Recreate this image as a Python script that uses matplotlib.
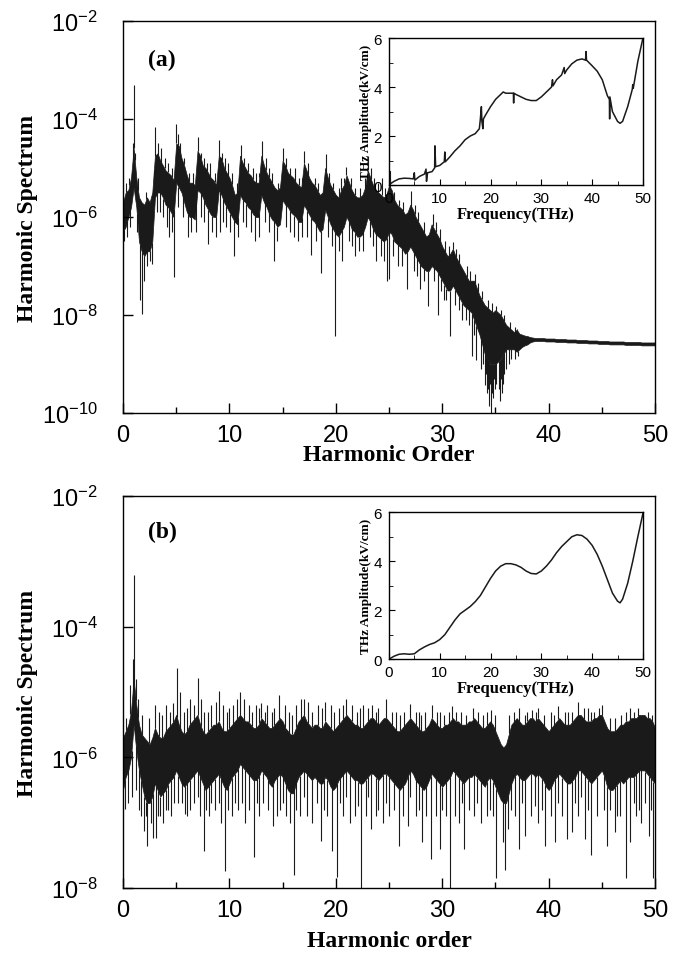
import numpy as np
import matplotlib
matplotlib.use("Agg")
import matplotlib.pyplot as plt
from matplotlib.ticker import MultipleLocator, NullLocator

plt.rcParams["font.family"] = ["Liberation Sans", "DejaVu Sans"]
plt.rcParams["mathtext.fontset"] = "custom"
plt.rcParams["mathtext.rm"] = "Liberation Sans"
plt.rcParams["mathtext.it"] = "Liberation Sans:italic"
plt.rcParams["mathtext.bf"] = "Liberation Sans:bold"

SERIF = "Liberation Serif"
INK = "#1a1a1a"

# ----------------------------
# Data: log10 of the harmonic spectrum
# band edges every 0.25 harmonic order, spikes as (order, log10 value)
# ----------------------------

h_grid = np.arange(0, 50.01, 0.25)

top_a = [
    -5.7, -5.5, -5.45, -5.2, -4.6, -5.2, -5.6, -5.7, -5.75, -5.6, -5.7, -5.5,
    -4.75, -4.7, -4.85, -4.95, -5.05, -5.1, -5.15, -5.25,
    -4.5, -4.55, -4.8, -4.95, -5.15, -5.3, -5.3, -5.35,
    -4.65, -4.75, -4.95, -5.0, -5.1, -5.2, -5.25, -5.35,
    -4.75, -4.8, -5.0, -5.1, -5.2, -5.35, -5.55, -5.5,
    -4.75, -4.9, -5.0, -5.1, -5.15, -5.25, -5.3, -5.3,
    -4.75, -4.95, -5.1, -5.2, -5.3, -5.4, -5.45, -5.4,
    -4.85, -4.95, -5.1, -5.15, -5.2, -5.3, -5.35, -5.4,
    -4.9, -5.05, -5.2, -5.3, -5.35, -5.45, -5.55, -5.5,
    -5.0, -5.2, -5.35, -5.45, -5.55, -5.6, -5.45, -5.35,
    -5.15, -5.3, -5.45, -5.55, -5.6, -5.6, -5.55, -5.4,
    -5.05, -5.2, -5.35, -5.45, -5.5, -5.55, -5.6, -5.55,
    -5.35, -5.45, -5.65, -5.75, -5.8, -5.85, -5.95, -5.9,
    -5.75, -5.85, -6.0, -6.1, -6.2, -6.3, -6.4, -6.35,
    -6.15, -6.25, -6.35, -6.45, -6.6, -6.7, -6.8, -6.75,
    -6.65, -6.8, -6.9, -7.0, -7.1, -7.2, -7.3, -7.3,
    -7.3, -7.45, -7.6, -7.7, -7.8, -7.85, -7.9, -7.95,
    -7.9, -7.95, -8.0, -8.1, -8.2, -8.25, -8.3, -8.35,
    -8.3, -8.38, -8.4, -8.42, -8.43, -8.45, -8.46, -8.47,
    -8.47, -8.47, -8.47, -8.48, -8.48, -8.48, -8.48, -8.49,
    -8.49, -8.49, -8.49, -8.5, -8.5, -8.5, -8.5, -8.51,
    -8.51, -8.51, -8.51, -8.52, -8.52, -8.52, -8.52, -8.53,
    -8.53, -8.53, -8.53, -8.54, -8.54, -8.54, -8.54, -8.54,
    -8.54, -8.55, -8.55, -8.55, -8.55, -8.55, -8.55, -8.56,
    -8.56, -8.56, -8.56, -8.56, -8.56,
]
bot_a = [
    -6.3, -6.2, -6.0, -5.8, -5.4, -5.8, -6.5, -6.7, -6.8, -6.7, -6.7, -6.5,
    -5.6, -5.5, -5.5, -5.6, -5.75, -5.8, -5.9, -6.0,
    -5.3, -5.4, -5.5, -5.7, -5.9, -6.0, -6.0, -6.05,
    -5.45, -5.5, -5.6, -5.75, -5.85, -5.95, -6.0, -6.0,
    -5.45, -5.55, -5.7, -5.8, -5.9, -6.0, -6.1, -6.15,
    -5.55, -5.65, -5.7, -5.8, -5.85, -5.95, -6.0, -6.0,
    -5.55, -5.7, -5.8, -5.95, -6.05, -6.1, -6.2, -6.15,
    -5.65, -5.75, -5.8, -5.9, -5.95, -6.0, -6.1, -6.1,
    -5.75, -5.85, -5.95, -6.05, -6.1, -6.2, -6.3, -6.25,
    -5.85, -6.0, -6.15, -6.25, -6.35, -6.4, -6.3, -6.2,
    -6.0, -6.1, -6.25, -6.3, -6.4, -6.4, -6.35, -6.2,
    -6.0, -6.1, -6.25, -6.35, -6.4, -6.45, -6.5, -6.45,
    -6.3, -6.35, -6.5, -6.55, -6.6, -6.65, -6.75, -6.7,
    -6.6, -6.7, -6.8, -6.9, -7.0, -7.05, -7.1, -7.1,
    -7.0, -7.05, -7.1, -7.2, -7.3, -7.4, -7.5, -7.5,
    -7.4, -7.5, -7.6, -7.7, -7.8, -7.85, -7.9, -7.95,
    -8.1, -8.25, -8.4, -8.6, -8.8, -8.9, -9.0, -9.0,
    -9.0, -8.95, -8.9, -8.8, -8.7, -8.7, -8.7, -8.7,
    -8.75, -8.7, -8.65, -8.62, -8.6, -8.56, -8.54, -8.53,
    -8.53, -8.53, -8.53, -8.54, -8.54, -8.54, -8.54, -8.55,
    -8.55, -8.55, -8.55, -8.56, -8.56, -8.56, -8.56, -8.57,
    -8.57, -8.57, -8.57, -8.58, -8.58, -8.58, -8.58, -8.59,
    -8.59, -8.59, -8.59, -8.6, -8.6, -8.6, -8.6, -8.6,
    -8.6, -8.61, -8.61, -8.61, -8.61, -8.61, -8.61, -8.62,
    -8.62, -8.62, -8.62, -8.62, -8.62,
]
up_a = [
    (1.0, -3.3), (0.9, -4.5), (1.1, -4.7), (3.0, -4.16), (3.3, -4.5), (3.6, -4.6),
    (5.0, -4.11), (5.2, -4.3), (5.4, -4.5), (7.0, -4.36), (7.3, -4.7), (8.2, -4.9),
    (9.0, -4.43), (9.3, -4.7), (11.1, -4.54), (11.4, -4.8), (12.2, -5.0),
    (13.1, -4.45), (13.4, -4.8), (15.0, -4.59), (16.2, -5.0), (17.0, -4.65),
    (19.1, -4.72), (20.5, -5.2), (21.0, -4.97), (23.0, -4.75), (24.3, -5.2),
    (25.1, -5.06), (27.1, -5.46), (29.1, -5.94), (31.0, -6.52), (33.1, -7.16),
    (35.06, -7.82), (37.0, -8.28),
    (0.3, -5.3), (0.6, -5.2), (1.4, -5.2), (2.2, -5.5), (2.9, -5.3), (3.9, -4.8),
    (4.2, -4.9), (4.6, -5.0), (5.7, -4.8), (6.2, -5.1), (6.6, -5.1), (7.6, -4.8),
    (7.9, -4.9), (8.6, -5.1), (9.6, -4.8), (9.9, -4.9), (10.2, -5.1), (10.7, -5.3),
    (11.7, -4.9), (12.5, -5.1), (12.8, -5.1), (13.7, -5.0), (14.0, -5.1),
    (14.6, -5.3), (15.3, -4.8), (15.7, -5.0), (16.5, -5.2), (16.8, -5.2),
    (17.4, -4.9), (18.0, -5.2), (18.3, -5.3), (19.4, -5.1), (19.7, -5.3),
    (20.3, -5.4), (20.8, -5.2), (21.4, -5.2), (21.8, -5.4), (22.3, -5.4),
    (22.7, -5.2), (23.3, -5.0), (23.6, -5.2), (24.0, -5.3), (24.6, -5.4),
    (25.5, -5.5), (25.9, -5.65), (26.3, -5.7), (27.4, -5.75), (27.7, -5.9),
    (28.3, -6.1), (29.4, -6.1), (29.8, -6.25), (30.3, -6.5), (30.6, -6.6),
    (31.3, -6.65), (31.6, -6.75), (32.3, -7.0), (32.6, -7.1), (33.4, -7.35),
    (33.7, -7.5), (34.3, -7.7), (34.7, -7.75), (35.5, -7.9), (35.8, -8.0),
    (36.4, -8.15), (36.8, -8.25),
]
down_a = [
    (0.1, -6.5), (1.6, -7.7), (1.8, -7.97), (2.0, -7.3), (2.3, -7.0), (2.5, -6.9),
    (2.7, -6.95), (4.3, -6.4), (4.8, -7.23), (6.1, -6.4), (6.9, -6.3), (8.0, -6.55),
    (9.1, -6.3), (10.4, -6.8), (12.4, -6.5), (14.2, -6.9), (16.4, -6.5),
    (17.7, -6.78), (18.6, -7.15), (19.9, -8.42), (20.6, -6.9), (21.8, -6.8),
    (23.75, -6.9), (24.8, -7.3), (25.0, -7.27), (26.7, -7.47), (27.9, -7.47),
    (28.7, -7.81), (29.6, -8.0), (30.2, -7.7), (30.7, -8.42), (31.9, -8.1),
    (32.8, -8.83), (33.2, -8.92), (33.6, -9.1), (34.0, -9.43), (34.2, -9.6),
    (34.4, -9.85), (34.6, -10.0), (34.8, -9.7), (35.0, -9.5), (35.4, -9.75),
    (35.6, -9.6), (35.8, -9.2), (36.3, -9.0), (37.1, -8.84),
    (0.4, -6.4), (0.7, -6.2), (1.3, -6.3), (3.2, -5.9), (3.5, -5.9), (3.8, -6.0),
    (4.1, -6.2), (4.6, -6.3), (5.2, -5.8), (5.6, -6.0), (6.4, -6.3), (7.3, -6.0),
    (7.6, -6.1), (8.4, -6.3), (8.7, -6.4), (9.4, -6.1), (9.7, -6.2), (10.1, -6.3),
    (10.8, -6.4), (11.3, -6.1), (11.6, -6.2), (12.0, -6.3), (12.8, -6.4),
    (13.3, -6.1), (13.7, -6.3), (14.5, -6.5), (15.3, -6.2), (15.7, -6.3),
    (16.1, -6.4), (16.8, -6.4), (17.3, -6.4), (18.1, -6.5), (19.3, -6.4),
    (19.6, -6.6), (20.3, -6.7), (21.2, -6.5), (21.5, -6.6), (22.2, -6.7),
    (22.6, -6.7), (23.2, -6.4), (23.5, -6.6), (24.2, -6.8), (24.5, -6.9),
    (25.4, -6.8), (25.8, -7.0), (26.2, -7.0), (27.3, -7.1), (27.6, -7.2),
    (28.3, -7.3), (29.2, -7.3), (29.9, -7.5), (30.4, -7.7), (31.2, -7.8),
    (31.6, -7.9), (32.2, -8.1), (32.5, -8.2), (33.0, -8.4), (33.8, -9.0),
    (34.1, -9.2), (34.3, -9.5), (34.5, -9.4), (34.7, -9.6), (34.9, -9.3),
    (35.1, -9.4), (35.3, -9.5), (35.5, -9.3), (35.7, -9.4), (36.0, -9.1),
    (36.5, -8.9), (36.8, -8.9),
]

top_b = [
    -5.7, -5.6, -5.5, -5.3, -4.8, -5.2, -5.5, -5.65, -5.7, -5.75, -5.8, -5.7,
    -5.55, -5.65, -5.7, -5.7, -5.6, -5.55, -5.5, -5.45,
    -5.35, -5.5, -5.6, -5.65, -5.6, -5.5, -5.45, -5.4,
    -5.35, -5.5, -5.6, -5.65, -5.6, -5.55, -5.5, -5.5,
    -5.45, -5.55, -5.6, -5.6, -5.55, -5.5, -5.45, -5.4,
    -5.35, -5.4, -5.45, -5.45, -5.5, -5.55, -5.55, -5.5,
    -5.4, -5.45, -5.5, -5.55, -5.55, -5.5, -5.45, -5.4,
    -5.45, -5.55, -5.6, -5.65, -5.65, -5.55, -5.45, -5.4,
    -5.35, -5.45, -5.5, -5.55, -5.5, -5.5, -5.55, -5.55,
    -5.45, -5.5, -5.55, -5.6, -5.55, -5.5, -5.45, -5.4,
    -5.35, -5.4, -5.45, -5.5, -5.5, -5.55, -5.55, -5.5,
    -5.45, -5.4, -5.4, -5.45, -5.5, -5.45, -5.4, -5.4,
    -5.45, -5.5, -5.55, -5.6, -5.6, -5.55, -5.5, -5.45,
    -5.4, -5.45, -5.5, -5.55, -5.6, -5.6, -5.55, -5.5,
    -5.4, -5.45, -5.5, -5.55, -5.55, -5.5, -5.5, -5.45,
    -5.4, -5.45, -5.45, -5.5, -5.5, -5.5, -5.45, -5.45,
    -5.4, -5.45, -5.5, -5.55, -5.55, -5.5, -5.45, -5.5,
    -5.6, -5.7, -5.8, -5.85, -5.8, -5.65, -5.5, -5.45,
    -5.4, -5.45, -5.5, -5.5, -5.45, -5.4, -5.4, -5.45,
    -5.4, -5.45, -5.5, -5.55, -5.6, -5.55, -5.5, -5.45,
    -5.4, -5.45, -5.5, -5.5, -5.5, -5.45, -5.4, -5.35,
    -5.35, -5.4, -5.45, -5.45, -5.45, -5.4, -5.4, -5.35,
    -5.35, -5.45, -5.55, -5.6, -5.6, -5.6, -5.55, -5.5,
    -5.5, -5.45, -5.45, -5.4, -5.4, -5.4, -5.35, -5.35,
    -5.35, -5.4, -5.4, -5.45, -5.55,
]
bot_b = [
    -6.5, -6.3, -6.2, -6.0, -5.5, -5.9, -6.2, -6.4, -6.6, -6.7, -6.7, -6.6,
    -6.4, -6.5, -6.6, -6.55, -6.5, -6.4, -6.35, -6.3,
    -6.2, -6.3, -6.4, -6.45, -6.4, -6.35, -6.3, -6.25,
    -6.2, -6.3, -6.4, -6.5, -6.45, -6.4, -6.35, -6.3,
    -6.25, -6.35, -6.45, -6.5, -6.4, -6.3, -6.25, -6.2,
    -6.1, -6.15, -6.2, -6.25, -6.3, -6.35, -6.35, -6.3,
    -6.2, -6.25, -6.3, -6.4, -6.45, -6.35, -6.3, -6.25,
    -6.3, -6.4, -6.5, -6.55, -6.55, -6.4, -6.3, -6.25,
    -6.2, -6.25, -6.3, -6.35, -6.3, -6.35, -6.4, -6.4,
    -6.3, -6.35, -6.45, -6.5, -6.45, -6.35, -6.3, -6.25,
    -6.2, -6.25, -6.3, -6.35, -6.35, -6.4, -6.4, -6.35,
    -6.3, -6.25, -6.25, -6.3, -6.35, -6.3, -6.25, -6.25,
    -6.3, -6.35, -6.4, -6.45, -6.5, -6.45, -6.4, -6.3,
    -6.2, -6.25, -6.35, -6.4, -6.45, -6.5, -6.45, -6.35,
    -6.25, -6.3, -6.35, -6.4, -6.45, -6.4, -6.35, -6.3,
    -6.2, -6.25, -6.3, -6.35, -6.4, -6.35, -6.3, -6.3,
    -6.25, -6.3, -6.35, -6.4, -6.45, -6.35, -6.3, -6.35,
    -6.45, -6.55, -6.65, -6.7, -6.7, -6.55, -6.4, -6.3,
    -6.25, -6.3, -6.35, -6.35, -6.3, -6.25, -6.25, -6.3,
    -6.25, -6.3, -6.35, -6.45, -6.5, -6.45, -6.35, -6.3,
    -6.25, -6.3, -6.35, -6.4, -6.4, -6.35, -6.3, -6.2,
    -6.2, -6.25, -6.3, -6.35, -6.4, -6.35, -6.3, -6.25,
    -6.2, -6.3, -6.45, -6.5, -6.5, -6.45, -6.4, -6.35,
    -6.4, -6.35, -6.3, -6.3, -6.3, -6.25, -6.2, -6.2,
    -6.2, -6.25, -6.3, -6.35, -6.4,
]
up_b = [
    (1.06, -3.21), (0.9, -4.5), (1.2, -4.8), (0.7, -4.9), (1.4, -5.1), (3.0, -5.2),
    (3.4, -5.3), (4.0, -5.2), (4.7, -5.17), (5.06, -4.64), (5.4, -5.0), (6.3, -5.1),
    (6.7, -5.2), (7.0, -4.79), (7.3, -5.1), (8.3, -5.2), (8.7, -5.15), (9.0, -4.99),
    (9.4, -5.2), (10.3, -5.2), (10.7, -5.1), (11.0, -5.0), (11.4, -5.1),
    (11.8, -5.2), (12.5, -5.2), (13.0, -5.17), (13.5, -5.2), (14.2, -5.25),
    (14.7, -5.05), (15.2, -5.2), (16.3, -5.2), (16.7, -5.1), (17.0, -5.1),
    (17.4, -5.15), (18.3, -5.2), (19.0, -5.15), (19.5, -5.2), (20.3, -5.25),
    (21.0, -5.1), (21.5, -5.2), (22.6, -5.2), (23.4, -5.2), (24.0, -5.25),
    (24.7, -5.1), (25.3, -5.3), (26.0, -5.35), (27.0, -5.18), (27.5, -5.3),
    (28.4, -5.3), (29.0, -5.2), (29.5, -5.3), (30.9, -5.21), (31.3, -5.3),
    (32.2, -5.35), (32.9, -5.24), (33.4, -5.3), (34.6, -5.27), (35.0, -5.35),
    (36.7, -5.3), (37.2, -5.25), (37.8, -5.35), (38.4, -5.27), (39.0, -5.24),
    (39.6, -5.35), (40.9, -5.21), (41.5, -5.3), (42.2, -5.3), (42.8, -5.16),
    (43.3, -5.25), (44.3, -5.3), (45.0, -5.2), (45.8, -5.4), (46.8, -5.35),
    (47.3, -5.3), (48.0, -5.3), (48.9, -5.35), (49.3, -5.3),
    (0.3, -5.4), (1.8, -5.35), (2.4, -5.4), (3.7, -5.35), (4.4, -5.3), (5.7, -5.3),
    (6.0, -5.25), (7.6, -5.3), (8.0, -5.3), (9.8, -5.3), (10.0, -5.25),
    (12.1, -5.3), (12.8, -5.25), (13.3, -5.3), (14.0, -5.3), (15.6, -5.3),
    (15.9, -5.35), (17.8, -5.3), (18.7, -5.25), (19.8, -5.3), (20.7, -5.2),
    (22.0, -5.3), (22.3, -5.25), (23.0, -5.25), (23.8, -5.3), (25.7, -5.3),
    (26.4, -5.3), (27.8, -5.3), (28.0, -5.35), (29.8, -5.3), (30.2, -5.35),
    (30.6, -5.3), (31.8, -5.3), (33.8, -5.35), (34.2, -5.3), (36.3, -5.35),
    (38.0, -5.3), (38.8, -5.3), (40.2, -5.3), (40.5, -5.35), (41.8, -5.3),
    (43.7, -5.25), (44.0, -5.3), (44.7, -5.25), (46.2, -5.4), (47.6, -5.25),
    (48.4, -5.25), (49.7, -5.35),
]
down_b = [
    (0.2, -6.79), (0.5, -6.7), (1.5, -6.8), (2.0, -7.12), (2.3, -7.35), (2.6, -7.0),
    (2.8, -7.23), (3.1, -7.23), (3.5, -6.9), (3.8, -7.0), (4.2, -6.8), (4.5, -6.9),
    (5.2, -6.7), (5.8, -6.87), (6.3, -6.8), (6.7, -6.7), (7.2, -6.9), (7.6, -7.43),
    (8.1, -6.9), (8.6, -6.8), (9.2, -7.0), (9.6, -7.74), (10.2, -6.9), (10.8, -6.8),
    (11.5, -7.0), (12.3, -7.53), (12.8, -6.9), (13.6, -6.8), (14.1, -7.05),
    (14.5, -6.9), (15.3, -6.9), (15.7, -7.0), (16.1, -7.8), (16.6, -6.9),
    (17.3, -6.9), (17.8, -7.0), (18.6, -7.28), (19.2, -6.9), (19.6, -7.43),
    (20.1, -7.83), (20.7, -6.9), (21.3, -7.0), (21.8, -6.9), (22.35, -8.1),
    (22.8, -6.9), (23.3, -7.1), (23.8, -6.9), (24.4, -7.0), (25.0, -6.9),
    (25.9, -7.35), (26.3, -6.9), (26.8, -7.05), (27.5, -6.9), (28.1, -7.3),
    (28.9, -7.56), (29.4, -6.9), (29.8, -7.4), (30.73, -8.1), (31.2, -6.9),
    (31.6, -7.0), (32.0, -7.4), (32.5, -6.8), (33.0, -6.9), (33.6, -7.0),
    (34.2, -6.9), (35.1, -7.84), (35.7, -7.3), (35.9, -7.73), (36.2, -7.1),
    (36.8, -6.9), (37.2, -7.4), (37.8, -7.2), (38.3, -6.9), (39.0, -7.0),
    (39.7, -7.35), (40.2, -6.9), (40.6, -7.3), (41.3, -6.9), (41.7, -7.25),
    (42.2, -7.15), (42.8, -6.9), (43.4, -7.25), (44.0, -7.5), (44.5, -6.9),
    (45.2, -6.8), (45.5, -7.35), (46.2, -7.15), (46.7, -6.9), (47.3, -7.84),
    (47.6, -7.3), (48.2, -6.9), (48.7, -7.0), (49.4, -7.2), (49.85, -7.84),
    (0.8, -6.6), (1.2, -6.5), (1.7, -6.9), (2.2, -6.9), (3.3, -6.9), (4.0, -6.8),
    (4.8, -6.7), (5.5, -6.7), (6.0, -6.9), (7.0, -6.6), (7.8, -6.8), (8.3, -6.7),
    (9.0, -6.7), (9.9, -6.8), (10.5, -6.7), (11.2, -6.7), (11.8, -6.8),
    (12.6, -6.7), (13.2, -6.7), (14.8, -6.8), (15.0, -6.7), (16.3, -6.8),
    (17.0, -6.6), (18.2, -6.7), (18.9, -6.8), (20.4, -6.7), (21.0, -6.6),
    (22.1, -6.75), (23.0, -6.6), (24.0, -6.8), (24.7, -6.7), (25.5, -6.8),
    (27.0, -6.6), (27.8, -6.8), (28.5, -6.9), (30.0, -6.8), (30.4, -6.9),
    (31.9, -6.7), (33.3, -6.7), (34.5, -6.8), (34.8, -6.9), (36.5, -6.8),
    (37.5, -6.7), (38.7, -6.75), (39.4, -6.8), (40.9, -6.7), (42.5, -6.7),
    (43.0, -6.6), (43.7, -6.8), (45.8, -6.8), (46.4, -6.9), (48.0, -6.7),
    (48.5, -6.8), (49.1, -6.7), (49.6, -6.8),
]

# insets: THz amplitude (kV/cm) vs frequency (THz)
freq_a = [0.0, 0.2, 0.3, 1.0, 2.0, 3.0, 4.0, 4.8, 5.0, 5.1, 6.0, 7.0, 7.3,
          7.4, 7.6, 8.5, 9.0, 9.05, 9.2, 10.0, 10.9, 11.0, 11.1, 12.0,
          13.0, 14.0, 15.0, 16.0, 17.0, 17.8, 18.0, 18.2, 18.3, 18.5,
          18.6, 19.0, 20.0, 21.0, 22.0, 22.5, 23.0, 24.0, 24.5, 24.55,
          24.6, 25.0, 26.0, 27.0, 28.0, 29.0, 30.0, 31.0, 32.0, 32.2,
          32.3, 33.0, 34.0, 34.5, 34.6, 35.0, 36.0, 37.0, 38.0, 38.7,
          38.8, 38.9, 40.0, 41.0, 42.0, 43.0, 43.4, 43.45, 43.5, 44.0,
          45.0, 45.5, 46.0, 47.0, 47.9, 48.0, 48.1, 49.0, 50.0]
amp_a = [0.0, 0.55, 0.05, 0.15, 0.25, 0.28, 0.27, 0.25, 0.5, 0.2, 0.35,
         0.45, 0.65, 0.15, 0.5, 0.55, 0.7, 1.6, 0.75, 0.8, 0.95, 1.35,
         0.95, 1.15, 1.4, 1.6, 1.85, 2.0, 2.1, 2.3, 2.7, 3.2, 2.6, 2.3,
         2.7, 2.85, 3.2, 3.5, 3.7, 3.8, 3.75, 3.75, 3.75, 3.35, 3.75,
         3.7, 3.6, 3.5, 3.45, 3.45, 3.6, 3.8, 4.0, 4.3, 4.05, 4.3, 4.5,
         4.8, 4.55, 4.7, 4.95, 5.1, 5.15, 5.1, 5.45, 5.1, 4.87, 4.65,
         4.3, 3.65, 3.5, 2.7, 3.6, 3.0, 2.6, 2.52, 2.6, 3.2, 3.9, 4.1,
         3.95, 5.05, 6.0]
freq_b = [0, 1, 2, 3, 4, 5, 6, 7, 8, 9, 10, 11, 12, 13, 14, 15, 16, 17,
          18, 19, 20, 21, 22, 23, 24, 25, 26, 27, 28, 29, 30, 31, 32, 33,
          34, 35, 36, 37, 38, 39, 40, 41, 42, 43, 44, 45, 45.5, 46, 47,
          48, 49, 50]
amp_b = [0.0, 0.12, 0.2, 0.22, 0.2, 0.22, 0.38, 0.5, 0.6, 0.67, 0.8, 1.0,
         1.3, 1.6, 1.85, 2.0, 2.15, 2.35, 2.6, 2.95, 3.3, 3.6, 3.8, 3.9,
         3.9, 3.85, 3.75, 3.6, 3.5, 3.48, 3.6, 3.8, 4.05, 4.35, 4.6, 4.8,
         5.0, 5.08, 5.05, 4.9, 4.65, 4.28, 3.8, 3.25, 2.7, 2.37, 2.3,
         2.45, 3.1, 4.0, 5.0, 5.95]

for arr in (top_a, bot_a, top_b, bot_b):
    assert len(arr) == len(h_grid), len(arr)


# ----------------------------
# Helpers
# ----------------------------

def draw_spectrum(ax, top, bot, up, down):
    top = np.array(top)
    bot = np.array(bot)
    ax.fill_between(h_grid, 10 ** top, 10 ** bot, color=INK, lw=0.5)
    ux, uv = np.array(up).T
    dx, dv = np.array(down).T
    ax.vlines(ux, 10 ** np.interp(ux, h_grid, top), 10 ** uv, color=INK, lw=0.8)
    ax.vlines(dx, 10 ** dv, 10 ** np.interp(dx, h_grid, bot), color=INK, lw=0.8)


def style_main(ax, ymin, label, label_y):
    ax.set_yscale("log")
    ax.set_xlim(0, 50)
    ax.set_ylim(10.0 ** ymin, 1e-2)
    ax.set_yticks([10.0 ** e for e in range(ymin, -1, 2)])
    ax.yaxis.set_minor_locator(NullLocator())
    ax.xaxis.set_major_locator(MultipleLocator(10))
    ax.xaxis.set_minor_locator(MultipleLocator(5))
    ax.tick_params(which="both", direction="in", top=False, right=False)
    ax.tick_params(which="major", length=7, width=1)
    ax.tick_params(which="minor", length=4, width=1)
    ax.tick_params(axis="y", labelsize=17, pad=18)
    ax.tick_params(axis="x", labelsize=17, pad=8)
    for s in ax.spines.values():
        s.set_linewidth(1.0)
    ax.text(0.047, label_y, label, transform=ax.transAxes,
            fontfamily=SERIF, fontweight="bold", fontsize=17, va="center")


def style_inset(ax, freq, amp):
    ax.patch.set_alpha(0)
    ax.plot(freq, amp, color=INK, lw=1.1)
    ax.set_xlim(0, 50)
    ax.set_ylim(0, 6)
    ax.xaxis.set_major_locator(MultipleLocator(10))
    ax.xaxis.set_minor_locator(MultipleLocator(5))
    ax.yaxis.set_major_locator(MultipleLocator(2))
    ax.yaxis.set_minor_locator(MultipleLocator(1))
    ax.tick_params(which="both", direction="in", top=False, right=False,
                   labelsize=11)
    ax.tick_params(axis="y", pad=5)
    ax.tick_params(axis="x", pad=4)
    ax.tick_params(which="major", length=4)
    ax.tick_params(which="minor", length=3)
    for s in ax.spines.values():
        s.set_linewidth(1.0)
    ax.set_xlabel("Frequency(THz)", fontfamily=SERIF, fontweight="bold",
                  fontsize=12, labelpad=1)
    ax.set_ylabel("THz Amplitude(kV/cm)", fontfamily=SERIF, fontweight="bold",
                  fontsize=9.5, labelpad=1)


# ----------------------------
# Figure
# ----------------------------

fig = plt.figure(figsize=(6.97, 9.54), dpi=100)

ax_a = fig.add_axes([0.1765, 0.566, 0.7633, 0.411])
draw_spectrum(ax_a, top_a, bot_a, up_a, down_a)
style_main(ax_a, -10, "(a)", 0.903)

ax_b = fig.add_axes([0.1765, 0.0681, 0.7633, 0.411])
draw_spectrum(ax_b, top_b, bot_b, up_b, down_b)
style_main(ax_b, -8, "(b)", 0.91)

ins_a = fig.add_axes([0.558, 0.805, 0.3644, 0.154])
style_inset(ins_a, freq_a, amp_a)

ins_b = fig.add_axes([0.558, 0.308, 0.3644, 0.154])
style_inset(ins_b, freq_b, amp_b)

for yc in (218, 693):
    fig.text(28 / 697, 1 - yc / 954, "Harmonic Spectrum", rotation=90,
             ha="center", va="center", fontfamily=SERIF, fontweight="bold",
             fontsize=17)
fig.text(389 / 697, 1 - 456 / 954, "Harmonic Order", ha="center", va="center",
         fontfamily=SERIF, fontweight="bold", fontsize=17)
fig.text(389 / 697, 1 - 942 / 954, "Harmonic order", ha="center", va="center",
         fontfamily=SERIF, fontweight="bold", fontsize=17)

fig.savefig("out.png", dpi=100)
